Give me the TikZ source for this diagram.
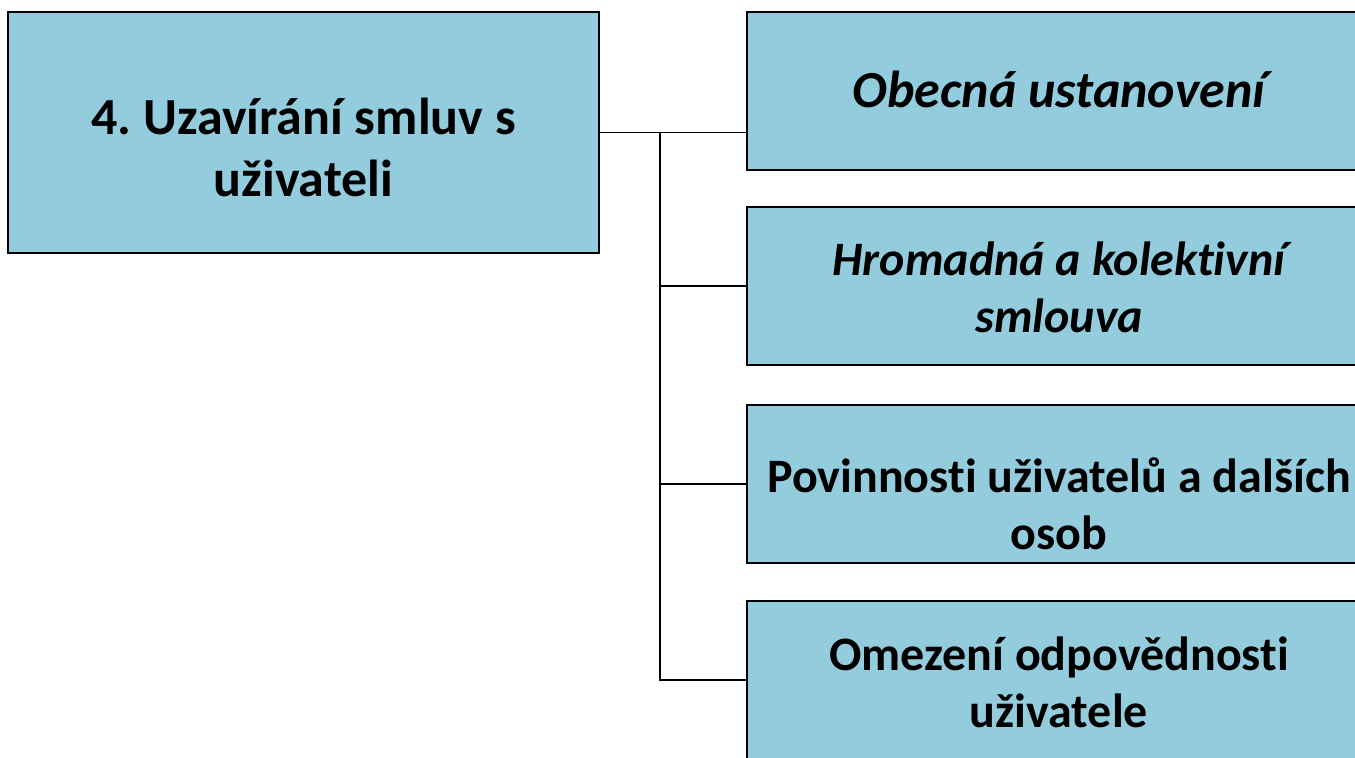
\documentclass[tikz,border=0pt]{standalone}
\usepackage{fontspec}
\setmainfont{Carlito}[Ligatures=NoCommon]
\usetikzlibrary{calc}
\definecolor{boxblue}{HTML}{93CDDD}
\frenchspacing

\begin{document}
\begin{tikzpicture}[x=0.75pt,y=0.75pt,yscale=-1,xscale=1,
        box/.style={draw=black, line width=1.7pt, fill=boxblue, inner sep=0pt, minimum width=468pt, minimum height=118.5pt},
        txt/.style={align=center, inner sep=0pt, font=\fontsize{36}{42.75}\selectfont\bfseries},
        link/.style={line width=1.3pt}]
        \useasboundingbox (0,0) rectangle (1355,757);
        \clip (0,0) rectangle (1355,757);
        
        % Main box
        \node [box, minimum width=443.25pt, minimum height=180.75pt] (lft) at (303.5,132.5) {};
        \node [txt, font=\fontsize{39}{47}\selectfont\bfseries] (lfttext) at ($(lft.center)+(0,15)$) {4. Uzavírání smluv s\\uživateli};
        
        % Sub boxes
        \node [box] (r1) at (1059,91) {};
        \node [box] (r2) at (1059,286) {};
        \node [box] (r3) at (1059,484) {};
        \node [box] (r4) at (1059,680) {};
        
        % Text Node
        \node [txt, font=\fontsize{39}{47}\selectfont\bfseries\itshape] (r1text) at ($(r1.center)+(0,-2)$) {Obecná ustanovení};
        % Text Node
        \node [txt, font=\fontsize{36}{42.75}\selectfont\bfseries\itshape] (r2text) at ($(r2.center)+(0,1)$) {Hromadná a kolektivní\\smlouva};
        % Text Node
        \node [txt] (r3text) at ($(r3.center)+(0,20)$) {Povinnosti uživatelů a dalších\\osob};
        % Text Node
        \node [txt] (r4text) at ($(r4.center)+(0,2)$) {Omezení odpovědnosti\\uživatele};
        
        % Connectors
        \coordinate (fork) at (660,132);
        \draw [link] (lft.east) -- (lft.east -| r1.west);
        \draw [link] (fork) |- (r4.west);
        \foreach \n in {r2,r3}
            \draw [link] (fork |- \n.west) -- (\n.west);
        
\end{tikzpicture}
\end{document}
